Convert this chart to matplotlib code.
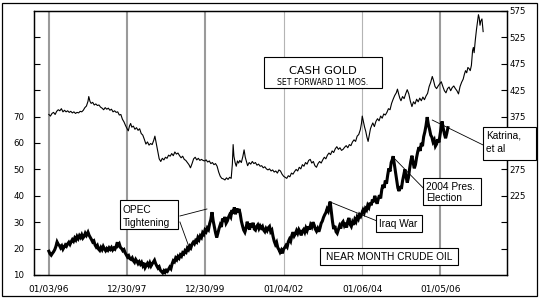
import matplotlib
matplotlib.use("Agg")
import matplotlib.pyplot as plt
from matplotlib.patches import Rectangle

# ---------------- data (decimal years) ----------------
oil_years = [
    1996.00, 1996.03, 1996.06, 1996.09, 1996.12, 1996.15, 1996.18, 1996.21, 1996.24, 1996.27,
    1996.30, 1996.33, 1996.36, 1996.39, 1996.42, 1996.45, 1996.48, 1996.51, 1996.54, 1996.57,
    1996.60, 1996.63, 1996.66, 1996.69, 1996.72, 1996.75, 1996.78, 1996.81, 1996.84, 1996.87,
    1996.90, 1996.93, 1996.96, 1997.00, 1997.03, 1997.06, 1997.09, 1997.12, 1997.15, 1997.18,
    1997.21, 1997.24, 1997.27, 1997.30, 1997.33, 1997.36, 1997.39, 1997.42, 1997.45, 1997.48,
    1997.51, 1997.54, 1997.57, 1997.60, 1997.63, 1997.66, 1997.69, 1997.72, 1997.75, 1997.77,
    1997.80, 1997.83, 1997.86, 1997.89, 1997.92, 1997.95, 1997.98, 1998.01, 1998.04, 1998.07,
    1998.10, 1998.13, 1998.16, 1998.19, 1998.22, 1998.25, 1998.28, 1998.31, 1998.34, 1998.37,
    1998.40, 1998.43, 1998.46, 1998.49, 1998.52, 1998.55, 1998.58, 1998.61, 1998.64, 1998.67,
    1998.70, 1998.73, 1998.76, 1998.79, 1998.82, 1998.85, 1998.88, 1998.91, 1998.94, 1998.97,
    1999.00, 1999.03, 1999.06, 1999.09, 1999.12, 1999.15, 1999.18, 1999.21, 1999.24, 1999.27,
    1999.30, 1999.33, 1999.36, 1999.39, 1999.42, 1999.45, 1999.48, 1999.51, 1999.54, 1999.57,
    1999.60, 1999.63, 1999.66, 1999.69, 1999.72, 1999.75, 1999.78, 1999.81, 1999.84, 1999.87,
    1999.90, 1999.93, 1999.96, 1999.99, 2000.02, 2000.05, 2000.08, 2000.11, 2000.14, 2000.17,
    2000.20, 2000.23, 2000.26, 2000.29, 2000.32, 2000.35, 2000.38, 2000.41, 2000.44, 2000.47,
    2000.50, 2000.53, 2000.56, 2000.59, 2000.62, 2000.65, 2000.68, 2000.71, 2000.74, 2000.77,
    2000.80, 2000.83, 2000.86, 2000.89, 2000.92, 2000.95, 2000.98, 2001.01, 2001.04, 2001.07,
    2001.10, 2001.13, 2001.16, 2001.19, 2001.22, 2001.25, 2001.28, 2001.31, 2001.34, 2001.37,
    2001.40, 2001.43, 2001.46, 2001.49, 2001.52, 2001.55, 2001.58, 2001.61, 2001.64, 2001.67,
    2001.70, 2001.73, 2001.76, 2001.79, 2001.82, 2001.85, 2001.88, 2001.91, 2001.94, 2001.97,
    2002.00, 2002.03, 2002.06, 2002.09, 2002.12, 2002.15, 2002.18, 2002.21, 2002.24, 2002.27,
    2002.30, 2002.33, 2002.36, 2002.39, 2002.42, 2002.45, 2002.48, 2002.51, 2002.54, 2002.57,
    2002.60, 2002.63, 2002.66, 2002.69, 2002.72, 2002.75, 2002.78, 2002.81, 2002.84, 2002.87,
    2002.90, 2002.93, 2002.96, 2002.99, 2003.02, 2003.05, 2003.08, 2003.11, 2003.14, 2003.17,
    2003.19, 2003.22, 2003.25, 2003.28, 2003.31, 2003.34, 2003.37, 2003.40, 2003.43, 2003.46,
    2003.49, 2003.52, 2003.55, 2003.58, 2003.61, 2003.64, 2003.67, 2003.70, 2003.73, 2003.76,
    2003.79, 2003.82, 2003.85, 2003.88, 2003.91, 2003.94, 2003.97, 2004.00, 2004.03, 2004.06,
    2004.09, 2004.12, 2004.15, 2004.18, 2004.21, 2004.24, 2004.27, 2004.30, 2004.33, 2004.36,
    2004.39, 2004.42, 2004.45, 2004.48, 2004.51, 2004.54, 2004.57, 2004.60, 2004.63, 2004.66,
    2004.69, 2004.72, 2004.75, 2004.78, 2004.80, 2004.83, 2004.86, 2004.89, 2004.92, 2004.95,
    2004.98, 2005.01, 2005.04, 2005.07, 2005.10, 2005.13, 2005.16, 2005.19, 2005.22, 2005.25,
    2005.28, 2005.31, 2005.34, 2005.37, 2005.40, 2005.43, 2005.46, 2005.49, 2005.52, 2005.55,
    2005.58, 2005.61, 2005.64, 2005.67, 2005.70, 2005.73, 2005.76, 2005.79, 2005.82, 2005.85,
    2005.88, 2005.91, 2005.94, 2005.97, 2006.00, 2006.03, 2006.05, 2006.08, 2006.11, 2006.14,
    2006.17, 2006.20]
oil_values = [
    19.0, 18.0, 17.5, 18.2, 18.8, 19.6, 20.8, 22.5, 21.6, 21.2,
    20.3, 21.0, 19.8, 20.6, 21.4, 20.9, 21.8, 22.4, 21.6, 22.6,
    23.4, 22.8, 24.0, 23.3, 24.6, 23.8, 24.9, 24.2, 25.2, 24.0,
    24.6, 25.8, 25.0, 26.2, 25.0, 24.2, 23.4, 22.5, 22.9, 21.4,
    20.6, 21.2, 19.8, 19.3, 20.4, 19.6, 20.8, 19.9, 19.2, 20.0,
    19.4, 20.3, 19.7, 20.4, 19.5, 20.2, 19.8, 20.9, 22.4, 21.2,
    21.8, 20.4, 20.0, 19.2, 19.6, 18.4, 17.6, 16.8, 17.3, 16.2,
    15.9, 16.5, 15.4, 14.8, 15.9, 15.2, 14.3, 15.0, 14.1, 14.8,
    13.6, 14.6, 12.8, 13.6, 14.4, 13.5, 14.6, 13.4, 14.2, 14.9,
    15.6, 14.3, 13.4, 12.6, 13.1, 11.8, 11.3, 10.8, 11.6, 11.0,
    11.8, 11.4, 12.2, 13.0, 12.4, 14.2, 15.4, 15.0, 16.4, 15.8,
    17.0, 16.4, 17.6, 17.1, 18.4, 18.0, 19.2, 18.7, 20.2, 19.6,
    20.9, 20.3, 21.7, 22.4, 21.8, 23.0, 22.5, 24.2, 23.4, 24.8,
    24.2, 26.0, 25.4, 27.0, 26.4, 27.8, 27.2, 29.5, 31.0, 33.8,
    30.5, 28.2, 26.0, 24.2, 25.8, 27.6, 29.0, 28.2, 31.4, 30.2,
    32.0, 29.6, 30.4, 31.8, 32.8, 32.0, 34.6, 33.2, 35.6, 33.0,
    35.2, 33.8, 35.0, 33.2, 30.4, 28.6, 27.0, 26.2, 27.8, 30.2,
    28.4, 27.2, 29.6, 28.0, 29.8, 27.4, 27.0, 28.4, 29.0, 27.6,
    28.6, 27.8, 28.4, 27.0, 26.4, 27.6, 26.8, 27.9, 28.4, 26.4,
    27.0, 24.6, 22.8, 21.6, 22.4, 20.4, 19.6, 18.6, 19.4, 18.2,
    19.8, 20.4, 21.2, 20.6, 22.6, 23.6, 22.8, 25.0, 26.2, 24.8,
    25.6, 26.8, 25.8, 27.2, 26.4, 25.0, 26.6, 27.2, 26.2, 27.8,
    26.8, 28.4, 27.2, 29.0, 28.2, 30.0, 29.0, 27.4, 26.6, 27.6,
    26.4, 27.8, 29.6, 30.4, 31.8, 32.8, 33.6, 35.0, 34.2, 36.6,
    37.8, 34.0, 30.2, 27.4, 28.6, 26.4, 25.8, 27.2, 28.6, 27.6,
    29.6, 30.2, 28.8, 29.8, 28.0, 30.4, 31.6, 29.2, 28.4, 30.0,
    29.0, 31.0, 30.2, 32.0, 31.2, 32.8, 32.2, 33.4, 34.6, 33.6,
    35.2, 34.6, 36.4, 35.6, 37.4, 36.4, 38.6, 37.6, 40.0, 38.4,
    37.0, 38.8, 40.2, 39.0, 42.4, 44.2, 43.0, 45.8, 44.6, 47.8,
    50.4, 49.2, 52.6, 53.8, 55.0, 52.0, 48.8, 46.0, 43.0, 41.8,
    43.6, 42.6, 45.6, 47.8, 50.0, 47.2, 45.0, 46.8, 50.2, 53.0,
    55.2, 52.6, 50.4, 51.8, 54.6, 56.8, 58.4, 57.0, 60.0, 58.8,
    62.4, 64.2, 66.6, 69.8, 67.0, 65.2, 63.0, 62.2, 60.4, 61.2,
    58.8, 59.6, 61.4, 60.2, 63.2, 66.0, 68.2, 65.6, 63.4, 61.8,
    63.6, 65.8]

gold_years = [
    1996.00, 1996.04, 1996.08, 1996.12, 1996.16, 1996.20, 1996.24, 1996.28, 1996.32, 1996.36,
    1996.40, 1996.44, 1996.48, 1996.52, 1996.56, 1996.60, 1996.64, 1996.68, 1996.72, 1996.76,
    1996.80, 1996.84, 1996.88, 1996.92, 1996.96, 1997.00, 1997.02, 1997.05, 1997.08, 1997.12,
    1997.16, 1997.20, 1997.24, 1997.28, 1997.32, 1997.36, 1997.40, 1997.44, 1997.48, 1997.52,
    1997.56, 1997.60, 1997.64, 1997.68, 1997.72, 1997.76, 1997.80, 1997.84, 1997.88, 1997.92,
    1997.96, 1998.00, 1998.03, 1998.06, 1998.09, 1998.12, 1998.16, 1998.20, 1998.24, 1998.28,
    1998.32, 1998.36, 1998.40, 1998.44, 1998.48, 1998.52, 1998.56, 1998.60, 1998.64, 1998.68,
    1998.71, 1998.74, 1998.78, 1998.82, 1998.86, 1998.90, 1998.94, 1998.98, 1999.02, 1999.06,
    1999.10, 1999.14, 1999.18, 1999.22, 1999.26, 1999.30, 1999.34, 1999.38, 1999.42, 1999.46,
    1999.50, 1999.54, 1999.58, 1999.62, 1999.66, 1999.70, 1999.74, 1999.78, 1999.82, 1999.86,
    1999.90, 1999.94, 1999.98, 2000.02, 2000.06, 2000.10, 2000.14, 2000.18, 2000.22, 2000.26,
    2000.30, 2000.34, 2000.38, 2000.42, 2000.46, 2000.50, 2000.54, 2000.58, 2000.62, 2000.66,
    2000.69, 2000.71, 2000.73, 2000.76, 2000.79, 2000.82, 2000.85, 2000.88, 2000.92, 2000.96,
    2000.99, 2001.02, 2001.05, 2001.08, 2001.12, 2001.16, 2001.20, 2001.24, 2001.28, 2001.32,
    2001.36, 2001.40, 2001.44, 2001.48, 2001.52, 2001.56, 2001.60, 2001.64, 2001.68, 2001.72,
    2001.76, 2001.80, 2001.84, 2001.88, 2001.92, 2001.96, 2002.00, 2002.04, 2002.08, 2002.12,
    2002.16, 2002.20, 2002.24, 2002.28, 2002.32, 2002.36, 2002.40, 2002.44, 2002.48, 2002.52,
    2002.56, 2002.60, 2002.64, 2002.68, 2002.72, 2002.76, 2002.80, 2002.84, 2002.88, 2002.92,
    2002.96, 2003.00, 2003.04, 2003.08, 2003.12, 2003.16, 2003.20, 2003.24, 2003.28, 2003.32,
    2003.36, 2003.40, 2003.44, 2003.48, 2003.52, 2003.56, 2003.60, 2003.64, 2003.68, 2003.72,
    2003.76, 2003.80, 2003.84, 2003.88, 2003.92, 2003.96, 2003.99, 2004.01, 2004.04, 2004.07,
    2004.10, 2004.13, 2004.16, 2004.19, 2004.22, 2004.25, 2004.28, 2004.32, 2004.36, 2004.40,
    2004.44, 2004.48, 2004.52, 2004.56, 2004.60, 2004.64, 2004.68, 2004.72, 2004.76, 2004.80,
    2004.84, 2004.88, 2004.91, 2004.94, 2004.97, 2005.00, 2005.04, 2005.08, 2005.12, 2005.16,
    2005.20, 2005.24, 2005.28, 2005.32, 2005.36, 2005.40, 2005.44, 2005.48, 2005.52, 2005.56,
    2005.60, 2005.64, 2005.68, 2005.72, 2005.76, 2005.80, 2005.83, 2005.87, 2005.91, 2005.95,
    2005.99, 2006.03, 2006.07, 2006.11, 2006.15, 2006.19, 2006.23, 2006.27, 2006.31, 2006.35,
    2006.39, 2006.43, 2006.47, 2006.51, 2006.55, 2006.59, 2006.62, 2006.65, 2006.68, 2006.71,
    2006.74, 2006.77, 2006.80, 2006.83, 2006.85, 2006.87, 2006.90, 2006.93, 2006.96, 2006.98,
    2007.00, 2007.02, 2007.04, 2007.07, 2007.09, 2007.10]
gold_values = [
    379, 376, 381, 383, 379, 385, 388, 386, 390, 384,
    387, 384, 386, 383, 385, 382, 384, 381, 383, 382,
    385, 384, 387, 392, 395, 404, 413, 404, 400, 402,
    397, 399, 396, 397, 393, 391, 388, 392, 389, 391,
    387, 389, 384, 386, 383, 384, 378, 379, 370, 365,
    358, 352, 348, 357, 362, 355, 357, 351, 354, 349,
    352, 343, 340, 332, 323, 327, 321, 324, 322, 330,
    338, 326, 310, 295, 290, 296, 293, 298, 296, 302,
    300, 305, 301, 308, 304, 306, 301, 297, 300, 294,
    292, 288, 284, 278, 286, 295, 298, 293, 296, 292,
    294, 292, 291, 293, 289, 291, 286, 288, 284, 286,
    281, 270, 262, 258, 257, 255, 259, 256, 260, 258,
    285, 322, 300, 288, 281, 291, 287, 292, 288, 300,
    312, 298, 290, 282, 288, 285, 290, 286, 288, 283,
    285, 281, 282, 278, 280, 276, 274, 276, 272, 274,
    270, 272, 268, 274, 272, 266, 262, 260, 258, 263,
    261, 268, 266, 271, 275, 272, 279, 276, 284, 281,
    288, 285, 292, 294, 287, 290, 282, 279, 286, 290,
    287, 293, 298, 295, 302, 306, 303, 310, 307, 314,
    318, 313, 316, 311, 313, 317, 320, 316, 322, 320,
    327, 331, 328, 338, 341, 350, 362, 376, 365, 355,
    347, 336, 328, 340, 352, 358, 363, 356, 366, 371,
    367, 376, 372, 380, 378, 383, 390, 388, 400, 408,
    415, 420, 427, 418, 410, 405, 413, 409, 418, 426,
    418, 404, 394, 403, 399, 408, 403, 410, 405, 412,
    407, 414, 419, 432, 440, 451, 444, 432, 428, 433,
    437, 441, 432, 424, 420, 428, 431, 424, 430, 433,
    428, 424, 418, 432, 440, 446, 455, 462, 458, 468,
    466, 462, 472, 500, 506, 496, 520, 540, 556, 568,
    562, 548, 556, 560, 545, 536]

date_ticks = [1996.00, 1997.99, 1999.99, 2002.01, 2004.01, 2006.01]
date_labels = ["01/03/96", "12/30/97", "12/30/99", "01/04/02", "01/06/04", "01/05/06"]
heavy_grid = [True, True, True, False, False, True]

oil_ticks = [10, 20, 30, 40, 50, 60, 70, 80, 90, 100]
oil_labels = ["10", "20", "30", "40", "50", "60", "70", "", "", ""]
gold_ticks = [125, 175, 225, 275, 325, 375, 425, 475, 525, 575]
gold_labels = ["", "", "225", "275", "325", "375", "425", "475", "525", "575"]

# ---------------- figure ----------------
W, H = 541, 300
fig = plt.figure(figsize=(W / 100, H / 100), dpi=100)
fig.patch.set_facecolor("white")

# outer frame
fig.patches.append(Rectangle((2 / W, 4 / H), 535 / W, 293 / H, transform=fig.transFigure,
                             fill=False, edgecolor="black", linewidth=0.9))

ax = fig.add_axes([34 / W, 25 / H, 473 / W, 264 / H])
ax.set_xlim(1995.62, 2007.71)
ax.set_ylim(10, 110)
ax2 = ax.twinx()
ax2.set_ylim(75, 575)

# vertical date lines
for xv, heavy in zip(date_ticks, heavy_grid):
    if heavy:
        ax.axvline(xv, color="#9a9a9a", lw=1.5, zorder=1)
    else:
        ax.axvline(xv, color="#b4b4b4", lw=0.8, zorder=1)

ax.plot(oil_years, oil_values, color="black", lw=2.2, solid_joinstyle="miter", zorder=3)
ax2.plot(gold_years, gold_values, color="black", lw=0.8, zorder=3)

# ticks
ax.set_xticks(date_ticks)
ax.set_xticklabels(date_labels, fontsize=6.5, family="DejaVu Sans")
ax.tick_params(axis="x", length=0, pad=7)
ax.set_yticks(oil_ticks)
ax.set_yticklabels(oil_labels, fontsize=6.2, family="DejaVu Sans")
ax.tick_params(axis="y", direction="in", length=4.5, width=0.8, pad=7)
ax2.set_yticks(gold_ticks)
ax2.set_yticklabels(gold_labels, fontsize=6.2, family="DejaVu Sans")
ax2.tick_params(axis="y", direction="in", length=4, width=0.8, pad=2)
for a in (ax, ax2):
    for s in a.spines.values():
        s.set_linewidth(0.9)

T = ax.transData
ann_font = dict(family=["Liberation Sans", "DejaVu Sans"], fontsize=7.3, color="black")


def box(x0, x1, y0, y1):
    ax2.add_patch(Rectangle((x0, y0), x1 - x0, y1 - y0, transform=T, facecolor="white",
                            edgecolor="black", lw=0.8, zorder=6, clip_on=False))


def line(x0, y0, x1, y1):
    ax2.plot([x0, x1], [y0, y1], transform=T, color="black", lw=0.6, zorder=5, clip_on=False)


# CASH GOLD box
box(2001.50, 2004.52, 80.8, 92.6)
ax2.text(2003.01, 87.2, "CASH GOLD", transform=T, ha="center", va="center", fontsize=8.2,
         family="DejaVu Sans", zorder=7)
ax2.text(2003.01, 82.9, "SET FORWARD 11 MOS.", transform=T, ha="center", va="center", fontsize=5.6,
         family="DejaVu Sans", zorder=7)

# OPEC Tightening
line(1999.35, 32.35, 2000.04, 35.0)
line(1999.35, 30.08, 1999.61, 19.47)
box(1997.82, 1999.30, 27.4, 38.4)
ax2.text(1997.89, 34.6, "OPEC", transform=T, ha="left", va="center", zorder=7, **ann_font)
ax2.text(1997.89, 29.7, "Tightening", transform=T, ha="left", va="center", zorder=7, **ann_font)

# Iraq War
line(2004.39, 30.45, 2003.19, 37.65)
box(2004.36, 2005.54, 26.3, 32.7)
ax2.text(2004.44, 29.5, "Iraq War", transform=T, ha="left", va="center", zorder=7, **ann_font)

# 2004 Pres. Election
line(2005.57, 42.95, 2004.82, 54.3)
box(2005.57, 2007.05, 36.5, 46.7)
ax2.text(2005.64, 43.3, "2004 Pres.", transform=T, ha="left", va="center", zorder=7, **ann_font)
ax2.text(2005.64, 39.2, "Election", transform=T, ha="left", va="center", zorder=7, **ann_font)

# Katrina
line(2007.10, 59.24, 2005.80, 68.7)
box(2007.10, 2008.46, 53.6, 66.1)
ax2.text(2007.18, 63.0, "Katrina,", transform=T, ha="left", va="center", zorder=7, **ann_font)
ax2.text(2007.18, 57.7, "et al", transform=T, ha="left", va="center", zorder=7, **ann_font)

# NEAR MONTH CRUDE OIL
box(2002.93, 2006.46, 13.8, 20.2)
ax2.text(2004.70, 17.0, "NEAR MONTH CRUDE OIL", transform=T, ha="center", va="center", zorder=7,
         **ann_font)

fig.savefig("out.png", dpi=100)
